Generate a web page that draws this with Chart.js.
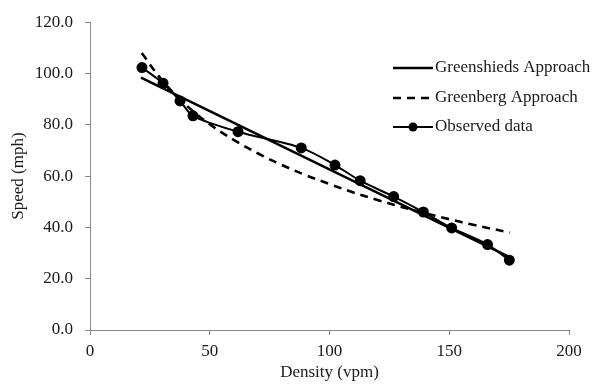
<!DOCTYPE html>
<html>
<head>
<meta charset="utf-8">
<script src="https://cdn.jsdelivr.net/npm/chart.js@4.4.0/dist/chart.umd.min.js"></script>
<style>
  html, body { margin: 0; padding: 0; background: #fff; }
  #wrap { width: 607px; height: 392px; position: relative; }
</style>
</head>
<body>
<div id="wrap"><canvas id="speedChart"></canvas></div>
<script>
  // observed density (vpm) / speed (mph)
  const observedDensity = [21.7, 30.5, 37.6, 43, 61.8, 88.2, 102.3, 112.8, 126.8, 139.2, 151, 166, 175.1];
  const observedSpeed = [102.3, 96.2, 89.3, 83.5, 77.3, 71, 64.3, 58.2, 52, 46, 39.8, 33.3, 27.2];

  // Greenshields fit (straight line)
  const greenshieldsDensity = [21.3, 175.2];
  const greenshieldsSpeed = [98.4, 28.4];

  // Greenberg fit
  const greenbergDensity = [21.6, 30, 40, 50, 60, 70, 80, 90, 100, 110, 120, 130, 140, 150, 160, 175.4];
  const greenbergSpeed = [108, 97.5, 87.8, 80.2, 74.1, 68.9, 64.4, 60.4, 56.9, 53.6, 50.7, 48, 45.5, 43.2, 41, 38];

  const xTicks = [0, 50, 100, 150, 200];
  const yTicks = [0, 20, 40, 60, 80, 100, 120];

  const legendLabels = ['Greenshieds Approach', 'Greenberg Approach', 'Observed data'];

  const FONT = "'Liberation Serif', 'Times New Roman', serif";
  const TEXT = '#1a1a1a';
  const AXIS = '#898989';

  function pairs(xs, ys) {
    return xs.map((x, i) => ({ x: x, y: ys[i] }));
  }

  const data = {
    datasets: [{
      label: legendLabels[0],
      data: pairs(greenshieldsDensity, greenshieldsSpeed),
      borderColor: '#000',
      borderWidth: 2.6,
      pointRadius: 0,
      tension: 0
    }, {
      label: legendLabels[1],
      data: pairs(greenbergDensity, greenbergSpeed),
      borderColor: '#000',
      borderWidth: 2.6,
      borderDash: [8, 6],
      pointRadius: 0,
      tension: 0.4
    }, {
      label: legendLabels[2],
      data: pairs(observedDensity, observedSpeed),
      borderColor: '#000',
      backgroundColor: '#000',
      borderWidth: 2,
      pointRadius: 4.5,
      pointBackgroundColor: '#000',
      tension: 0.3
    }]
  };

  // legend drawn inside the plot, Excel style
  const insideLegend = {
    id: 'insideLegend',
    afterDraw(chart) {
      const ctx = chart.ctx;
      const rows = [68, 98, 127];
      const x0 = 393, x1 = 433;
      ctx.save();
      ctx.font = '17px ' + FONT;
      ctx.fillStyle = TEXT;
      ctx.textBaseline = 'middle';
      ctx.textAlign = 'left';
      rows.forEach((y, i) => {
        ctx.strokeStyle = '#000';
        ctx.lineWidth = i === 2 ? 2 : 2.6;
        ctx.setLineDash(i === 1 ? [8, 6] : []);
        ctx.beginPath();
        ctx.moveTo(x0, y);
        ctx.lineTo(x1, y);
        ctx.stroke();
        if (i === 2) {
          ctx.setLineDash([]);
          ctx.fillStyle = '#000';
          ctx.beginPath();
          ctx.arc((x0 + x1) / 2, y, 4.5, 0, Math.PI * 2);
          ctx.fill();
          ctx.fillStyle = TEXT;
        }
        ctx.fillText(legendLabels[i], x1 + 2, y);
      });
      ctx.restore();
    }
  };

  const config = {
    type: 'line',
    data,
    options: {
      responsive: true,
      maintainAspectRatio: false,
      animation: false,
      layout: { padding: { top: 18, right: 38, left: 0, bottom: 0 } },
      plugins: {
        legend: { display: false },
        tooltip: { enabled: false }
      },
      scales: {
        x: {
          type: 'linear',
          min: xTicks[0],
          max: xTicks[xTicks.length - 1],
          afterBuildTicks: (axis) => { axis.ticks = xTicks.map(v => ({ value: v })); },
          afterFit: (axis) => { axis.height = 62; },
          border: { color: AXIS, width: 1 },
          grid: { drawOnChartArea: false, color: AXIS, tickLength: 5 },
          ticks: { color: TEXT, font: { family: FONT, size: 17 }, padding: 6, maxRotation: 0 },
          title: {
            display: true,
            text: 'Density (vpm)',
            color: TEXT,
            font: { family: FONT, size: 17 },
            padding: { top: 0, bottom: 9 }
          }
        },
        y: {
          min: yTicks[0],
          max: yTicks[yTicks.length - 1],
          afterBuildTicks: (axis) => { axis.ticks = yTicks.map(v => ({ value: v })); },
          afterFit: (axis) => { axis.width = 90; },
          border: { color: AXIS, width: 1 },
          grid: { drawOnChartArea: false, color: AXIS, tickLength: 5 },
          ticks: {
            color: TEXT,
            font: { family: FONT, size: 17 },
            padding: 12,
            callback: (v) => Number(v).toFixed(1)
          },
          title: {
            display: true,
            text: 'Speed (mph)',
            color: TEXT,
            font: { family: FONT, size: 17 },
            padding: { top: 8, bottom: 0 }
          }
        }
      }
    },
    plugins: [insideLegend]
  };

  var speedChart = new Chart(
    document.getElementById('speedChart'),
    config
  );
</script>
</body>
</html>
